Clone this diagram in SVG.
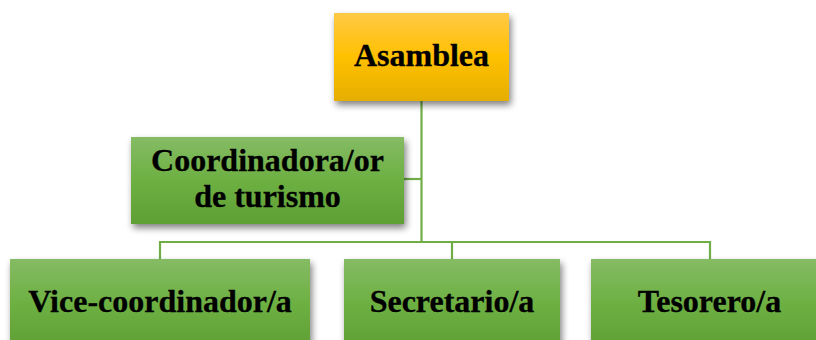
<svg xmlns="http://www.w3.org/2000/svg" width="816" height="340" viewBox="0 0 816 340">
<defs>
<linearGradient id="gGreen" x1="0" y1="0" x2="0" y2="1">
<stop offset="0" stop-color="#85bb65"/>
<stop offset="0.5" stop-color="#6db042"/>
<stop offset="1" stop-color="#5f9f35"/>
</linearGradient>
<linearGradient id="gYellow" x1="0" y1="0" x2="0" y2="1">
<stop offset="0" stop-color="#ffc946"/>
<stop offset="0.5" stop-color="#ffc000"/>
<stop offset="1" stop-color="#e5ae00"/>
</linearGradient>
<filter id="sh" x="-10%" y="-10%" width="125%" height="140%">
<feGaussianBlur in="SourceAlpha" stdDeviation="3.5"/>
<feOffset dx="2" dy="4" result="b"/>
<feComponentTransfer><feFuncA type="linear" slope="0.5"/></feComponentTransfer>
<feMerge><feMergeNode/><feMergeNode in="SourceGraphic"/></feMerge>
</filter>
</defs>
<style>
.lbl{font-family:"Liberation Serif","Times New Roman",serif;font-weight:bold;font-size:32px;fill:#000;stroke:#000;stroke-width:0.3;text-anchor:middle}
.conn{fill:none;stroke:#70ad47;stroke-width:2.2}
</style>
<rect width="816" height="340" fill="#fff"/>
<g id="connectors">
<path class="conn" d="M421.5 101 V242"/>
<path class="conn" d="M404 179 H421.5"/>
<path class="conn" d="M160 259 V242 H710 V259"/>
<path class="conn" d="M452 242 V259"/>
</g>
<g id="asamblea">
<rect x="334" y="13" width="175" height="88" fill="url(#gYellow)" filter="url(#sh)"/>
<text class="lbl" x="421.5" y="66">Asamblea</text>
</g>
<g id="coordinador">
<rect x="131" y="137" width="273" height="87" fill="url(#gGreen)" filter="url(#sh)"/>
<text class="lbl" x="267.5" y="171">Coordinadora/or</text>
<text class="lbl" x="267.5" y="207">de turismo</text>
</g>
<g id="vice">
<rect x="10" y="259" width="300" height="90" fill="url(#gGreen)" filter="url(#sh)"/>
<text class="lbl" x="160" y="312">Vice-coordinador/a</text>
</g>
<g id="secretario">
<rect x="344" y="259" width="216" height="90" fill="url(#gGreen)" filter="url(#sh)"/>
<text class="lbl" x="452" y="312">Secretario/a</text>
</g>
<g id="tesorero">
<rect x="591" y="259" width="238" height="90" fill="url(#gGreen)" filter="url(#sh)"/>
<text class="lbl" x="709.5" y="312">Tesorero/a</text>
</g>
</svg>
